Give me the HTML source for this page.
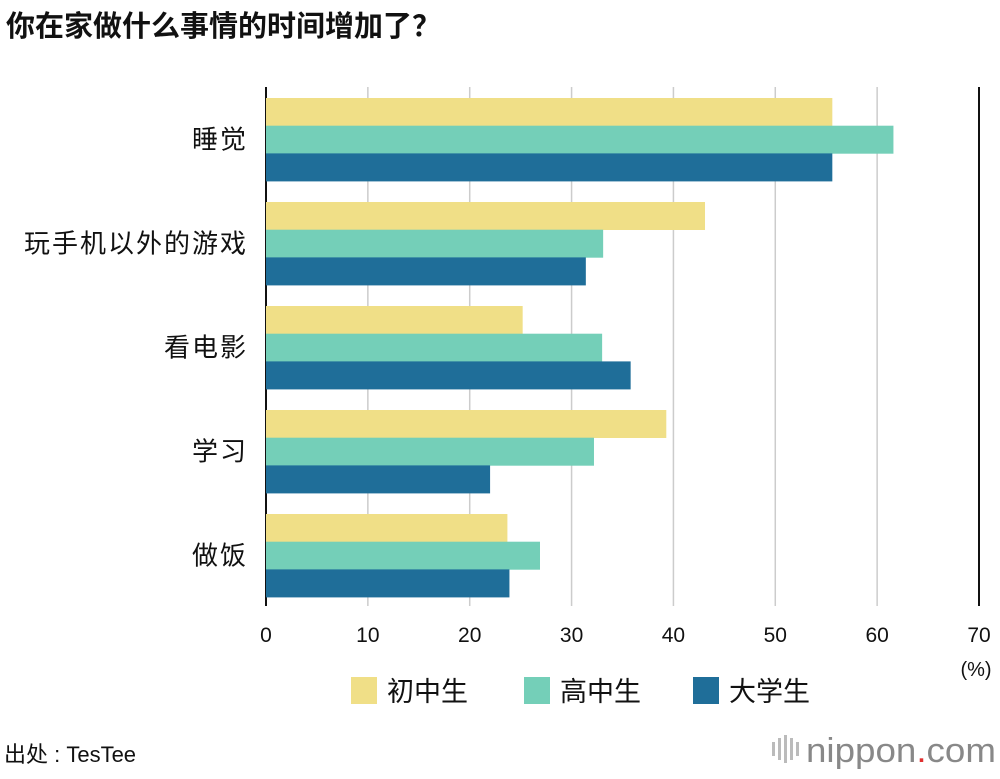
<!DOCTYPE html>
<html><head><meta charset="utf-8"><style>
body{margin:0;background:#fff;font-family:"Liberation Sans","Noto Sans CJK SC",sans-serif;}
svg text{font-family:"Liberation Sans","Noto Sans CJK SC",sans-serif;}
</style></head><body>
<svg id="c" width="1000" height="774">
<text x="6" y="36" font-size="29" font-weight="bold" fill="#111">你在家做什么事情的时间增加了？</text>
<g id="grid"></g><g id="bars"></g><g id="labels"></g>
<text x="976" y="676" font-size="20" text-anchor="middle" fill="#111">(%)</text>
<g id="legend"></g>
<text x="4" y="762" font-size="22" fill="#111">出处 : TesTee</text>
<g>
<rect x="772" y="742" width="3" height="14" fill="#bbb"/><rect x="778" y="738" width="3" height="22" fill="#bbb"/><rect x="784" y="735" width="3" height="28" fill="#bbb"/><rect x="790" y="738" width="3" height="22" fill="#bbb"/><rect x="796" y="742" width="3" height="14" fill="#bbb"/>
<text x="806" y="762" font-size="34" fill="#888" textLength="190" lengthAdjust="spacingAndGlyphs">nippon<tspan fill="#e03030">.</tspan>com</text></g>
</svg>
<script>
const categories=["睡觉","玩手机以外的游戏","看电影","学习","做饭"];
const seriesNames=["初中生","高中生","大学生"];
const juniorHigh=[55.6,43.1,25.2,39.3,23.7];
const seniorHigh=[61.6,33.1,33.0,32.2,26.9];
const university=[55.6,31.4,35.8,22.0,23.9];
const ticks=[0,10,20,30,40,50,60,70];
const colors=["#f0df87","#74cfb8","#1f6e99"];
const NS="http://www.w3.org/2000/svg";
const x0=266,x1=979,plotTop=87,plotBottom=606;
const xs=v=>x0+(x1-x0)*v/70;
function mk(t,a,p){const e=document.createElementNS(NS,t);for(const k in a)e.setAttribute(k,a[k]);p.appendChild(e);return e;}
const g=document.getElementById('grid');
ticks.forEach(t=>{
 const l=mk('line',{x1:xs(t),x2:xs(t),y1:plotTop,y2:plotBottom,stroke:t==0||t==70?'#111':'#ccc','stroke-width':t==0||t==70?2:1.5},g);
 
 
 const tx=mk('text',{x:xs(t),y:642,'font-size':21,'text-anchor':'middle',fill:'#111'},g);tx.textContent=t;
 
 
});
const b=document.getElementById('bars'),lb=document.getElementById('labels');
const series=[juniorHigh,seniorHigh,university];
const step=104,bh=27.7,start=98;
categories.forEach((c,i)=>{
 const gy=start+i*step;
 series.forEach((s,j)=>{
  const r=mk('rect',{x:x0,y:gy+j*bh,width:xs(s[i])-x0,height:bh+0.3,fill:colors[j]},b);
  
  
 });
 const t=mk('text',{x:248,y:gy+bh*1.5+9,'font-size':26,'letter-spacing':2,'text-anchor':'end',fill:'#111'},lb);t.textContent=c;
 
 
});
const lg=document.getElementById('legend');
const lx=[351,524,693];
seriesNames.forEach((n,j)=>{
 const r=mk('rect',{x:lx[j],y:677,width:26,height:27,fill:colors[j]},lg);
 
 
 const t=mk('text',{x:lx[j]+36,y:701,'font-size':27,fill:'#111'},lg);t.textContent=n;
 
 
});
</script>
</body></html>
